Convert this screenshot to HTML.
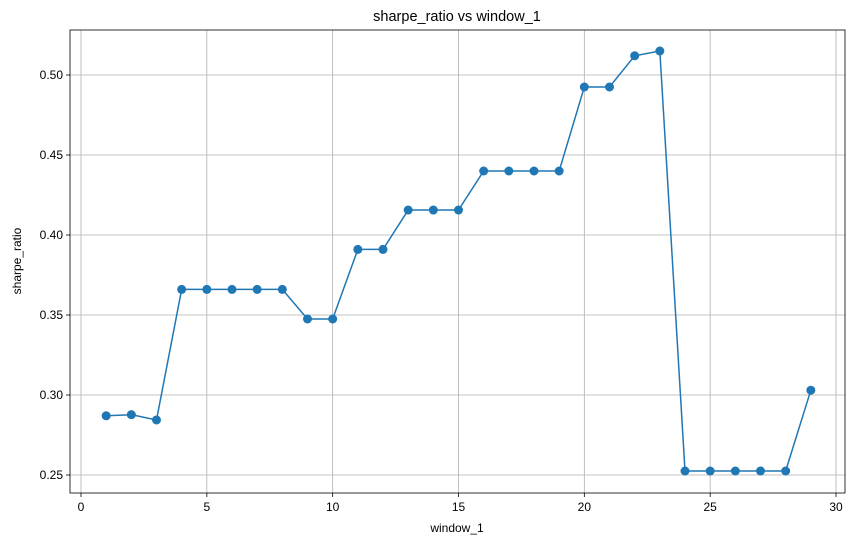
<!DOCTYPE html>
<html><head><meta charset="utf-8"><style>
body{margin:0;background:#fff;}
svg text{font-family:"Liberation Sans","DejaVu Sans",sans-serif;fill:#000;}
</style></head><body>
<svg id="chart" width="855" height="545" xmlns="http://www.w3.org/2000/svg">
<rect width="855" height="545" fill="#fff"/>
<g id="grid"></g>
<g id="axes"></g>
<g id="series"></g>
<text x="457" y="21" text-anchor="middle" font-size="14.5">sharpe_ratio vs window_1</text>
<text x="457" y="532" text-anchor="middle" font-size="12">window_1</text>
<text transform="translate(21,261) rotate(-90)" text-anchor="middle" font-size="12">sharpe_ratio</text>
</svg>
<script>
const xValues=[1,2,3,4,5,6,7,8,9,10,11,12,13,14,15,16,17,18,19,20,21,22,23,24,25,26,27,28,29];
const sharpeValues=[0.287,0.2877,0.2844,0.366,0.366,0.366,0.366,0.366,0.3475,0.3475,0.391,0.391,0.4156,0.4156,0.4156,0.44,0.44,0.44,0.44,0.4925,0.4925,0.512,0.515,0.2525,0.2525,0.2525,0.2525,0.2525,0.303];
const xTicks=[0,5,10,15,20,25,30];
const yTicks=[0.25,0.30,0.35,0.40,0.45,0.50];
const yTickLabels=["0.25","0.30","0.35","0.40","0.45","0.50"];
const L=70,R=845,T=30,B=493;
const sx=v=>81+(v-0)*(836-81)/30;
const sy=v=>475-(v-0.25)*(400/0.25);
const NS="http://www.w3.org/2000/svg";
function mk(tag,attrs,parent){const e=document.createElementNS(NS,tag);for(const k in attrs)e.setAttribute(k,attrs[k]);parent.appendChild(e);return e;}
const grid=document.getElementById('grid'),axes=document.getElementById('axes'),ser=document.getElementById('series');
xTicks.forEach(t=>{const x=sx(t);
 let g=mk('line',{x1:x,x2:x,y1:T,y2:B,stroke:'#b0b0b0','stroke-width':0.8},grid);
 
 
 let tk=mk('line',{x1:x,x2:x,y1:B,y2:B+4,stroke:'#000','stroke-width':0.8},axes);
 
 
 let tx=mk('text',{x:x,y:B+18,'text-anchor':'middle','font-size':12},axes);tx.textContent=t;
 
 
});
yTicks.forEach((t,i)=>{const y=sy(t);
 let g=mk('line',{x1:L,x2:R,y1:y,y2:y,stroke:'#b0b0b0','stroke-width':0.8},grid);
 
 
 let tk=mk('line',{x1:L-4,x2:L,y1:y,y2:y,stroke:'#000','stroke-width':0.8},axes);
 
 
 let tx=mk('text',{x:L-7,y:y+4,'text-anchor':'end','font-size':12},axes);tx.textContent=yTickLabels[i];
 
 
});
let fr=mk('rect',{x:L,y:T,width:R-L,height:B-T,fill:'none',stroke:'#000','stroke-width':0.8},axes);


const pts=xValues.map((x,i)=>sx(x)+','+sy(sharpeValues[i])).join(' ');
let pl=mk('polyline',{points:pts,fill:'none',stroke:'#1f77b4','stroke-width':1.5},ser);


xValues.forEach((x,i)=>{let c=mk('circle',{cx:sx(x),cy:sy(sharpeValues[i]),r:4.5,fill:'#1f77b4'},ser);
 
 
});
</script>
</body></html>
